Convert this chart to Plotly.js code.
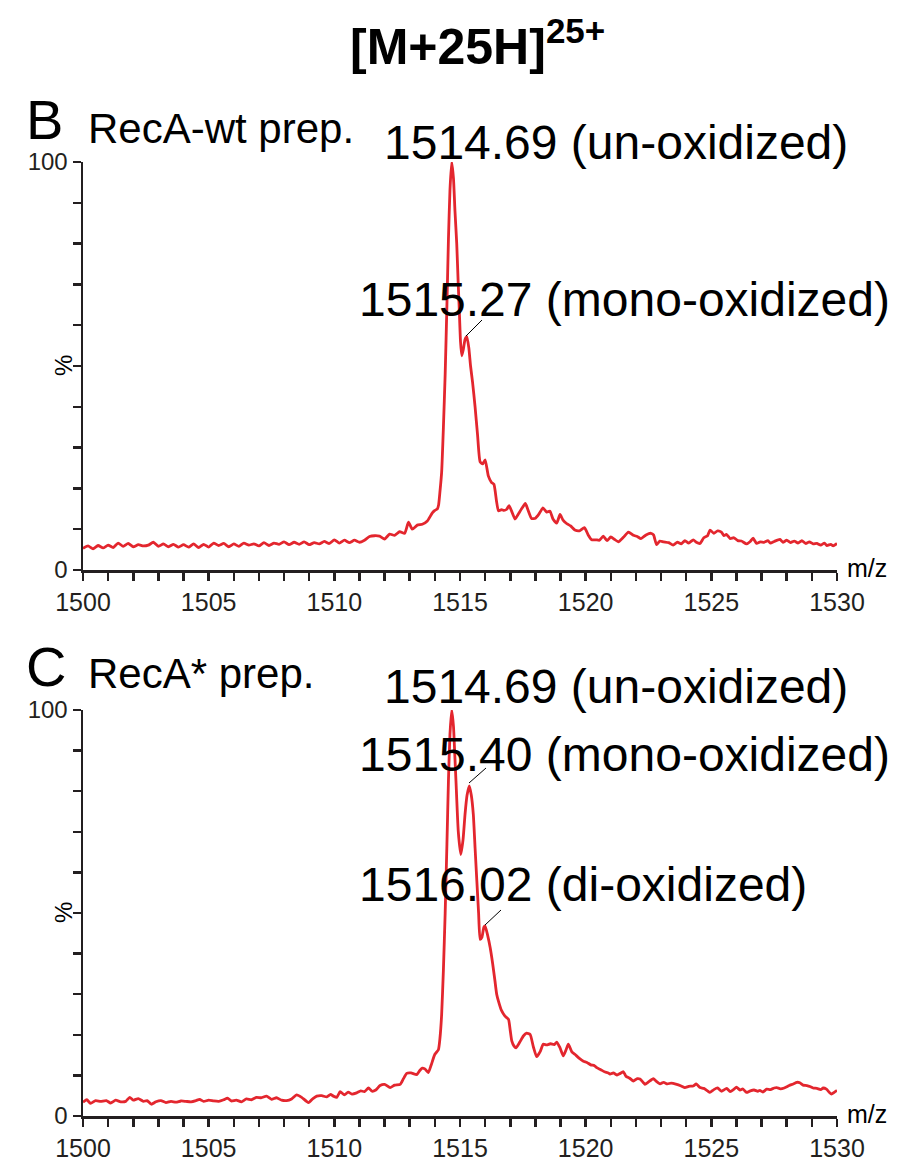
<!DOCTYPE html>
<html>
<head>
<meta charset="utf-8">
<script src="https://cdn.plot.ly/plotly-3.0.1.min.js"></script>
<style>html,body{margin:0;padding:0;background:#fff;}#chart{width:921px;height:1168px;}</style>
</head>
<body>
<div id="chart"></div>
<script>
// ---- data ----
const mzB = [1500.0,1500.2,1500.4,1500.6,1500.8,1501.0,1501.2,1501.4,1501.6,1501.8,1502.0,1502.2,1502.4,1502.6,1502.8,1503.0,1503.2,1503.4,1503.6,1503.8,1504.0,1504.2,1504.4,1504.6,1504.8,1505.0,1505.2,1505.4,1505.6,1505.8,1506.0,1506.2,1506.4,1506.6,1506.8,1507.0,1507.2,1507.4,1507.6,1507.8,1508.0,1508.2,1508.4,1508.6,1508.8,1509.0,1509.2,1509.4,1509.6,1509.8,1510.0,1510.2,1510.4,1510.6,1510.8,1511.0,1511.2,1511.4,1511.6,1511.8,1512.0,1512.2,1512.4,1512.6,1512.8,1512.95,1513.1,1513.3,1513.5,1513.7,1513.9,1514.0,1514.1,1514.15,1514.2,1514.27,1514.34,1514.41,1514.48,1514.54,1514.6,1514.67,1514.74,1514.8,1514.87,1514.93,1514.97,1515.02,1515.07,1515.13,1515.2,1515.27,1515.35,1515.42,1515.5,1515.6,1515.7,1515.8,1515.9,1516.0,1516.13,1516.25,1516.35,1516.45,1516.53,1516.65,1516.75,1516.86,1516.95,1517.05,1517.19,1517.3,1517.45,1517.6,1517.7,1517.85,1518.0,1518.15,1518.3,1518.45,1518.58,1518.7,1518.85,1518.98,1519.1,1519.24,1519.4,1519.57,1519.75,1519.95,1520.1,1520.24,1520.4,1520.55,1520.7,1520.85,1521.0,1521.15,1521.3,1521.5,1521.7,1521.9,1522.05,1522.2,1522.4,1522.6,1522.7,1522.82,1522.95,1523.1,1523.3,1523.48,1523.65,1523.8,1523.95,1524.1,1524.28,1524.4,1524.55,1524.7,1524.85,1524.95,1525.1,1525.25,1525.4,1525.5,1525.6,1525.75,1525.9,1526.05,1526.2,1526.4,1526.55,1526.66,1526.8,1526.95,1527.1,1527.25,1527.35,1527.5,1527.73,1527.85,1528.0,1528.15,1528.3,1528.45,1528.6,1528.75,1528.9,1529.05,1529.2,1529.35,1529.5,1529.6,1529.75,1529.85,1530.0];
const intB = [5.3,5.9,5.2,6.0,5.4,6.1,5.5,6.6,5.8,6.5,5.7,6.2,5.9,6.1,6.8,5.8,6.4,5.7,6.3,5.6,6.2,5.6,6.4,5.5,6.3,5.6,6.6,6.0,6.5,5.7,6.4,5.8,6.6,6.1,6.4,5.9,6.7,6.0,6.6,6.3,6.9,6.2,6.8,6.3,6.9,6.2,6.7,6.4,7.0,6.5,7.4,6.6,7.3,6.7,7.3,6.8,7.3,8.2,8.4,8.3,7.6,8.8,8.5,9.4,9.0,11.7,10.0,11.0,11.2,12.0,14.0,14.6,15.0,16,19,24,35,48,65,81,93,100,96,88,80,70,64,56,52.5,54,56.5,57.2,54.5,50,46,40,33,26.5,26.0,27.0,23,21.5,21,17,14.5,14.8,14.6,14.9,15.8,14.5,12.5,13.5,15.0,16.3,14.8,12.6,12.7,13.8,15.2,14.2,14.4,12.5,11.5,13.6,12.2,11.4,10.8,9.8,9.6,10.4,8.6,7.4,7.4,7.3,8.3,7.2,8.1,7.5,6.9,8.0,9.3,8.5,8.2,7.7,8.6,9.0,8.6,6.2,7.1,6.9,6.7,6.1,6.8,6.4,7.2,6.6,7.4,6.8,6.5,7.9,8.4,9.8,9.0,9.6,9.3,8.4,8.7,7.7,7.9,7.2,7.1,6.4,7.0,7.8,6.5,6.9,6.8,7.2,6.6,7.0,7.5,6.8,7.3,6.7,7.1,6.6,7.2,6.5,6.9,6.4,6.5,6.1,6.6,6.0,6.3,5.9,6.5];

const mzC = [1500.0,1500.15,1500.3,1500.5,1500.7,1500.93,1501.1,1501.3,1501.5,1501.7,1501.86,1502.0,1502.2,1502.4,1502.55,1502.72,1502.9,1503.1,1503.3,1503.5,1503.7,1503.9,1504.1,1504.3,1504.5,1504.64,1504.8,1505.0,1505.2,1505.4,1505.6,1505.75,1505.9,1506.1,1506.3,1506.5,1506.7,1506.9,1507.1,1507.3,1507.5,1507.7,1507.9,1508.1,1508.3,1508.5,1508.7,1508.97,1509.15,1509.3,1509.5,1509.7,1509.85,1509.96,1510.1,1510.23,1510.4,1510.55,1510.7,1510.89,1511.05,1511.2,1511.36,1511.5,1511.65,1511.82,1512.0,1512.22,1512.4,1512.62,1512.75,1512.88,1513.05,1513.28,1513.4,1513.5,1513.6,1513.74,1513.85,1514.0,1514.14,1514.2,1514.27,1514.34,1514.41,1514.48,1514.54,1514.6,1514.67,1514.74,1514.8,1514.84,1514.93,1515.03,1515.12,1515.2,1515.28,1515.37,1515.45,1515.53,1515.6,1515.67,1515.74,1515.8,1515.87,1515.95,1516.0,1516.1,1516.2,1516.3,1516.39,1516.46,1516.53,1516.65,1516.79,1516.93,1517.0,1517.06,1517.15,1517.23,1517.38,1517.52,1517.65,1517.79,1517.92,1518.05,1518.2,1518.31,1518.45,1518.6,1518.75,1518.85,1518.98,1519.11,1519.22,1519.31,1519.45,1519.57,1519.75,1519.91,1520.05,1520.2,1520.35,1520.44,1520.6,1520.75,1520.9,1520.97,1521.1,1521.25,1521.35,1521.5,1521.6,1521.75,1521.9,1522.05,1522.16,1522.3,1522.36,1522.5,1522.69,1522.8,1522.96,1523.1,1523.25,1523.4,1523.62,1523.8,1523.95,1524.1,1524.28,1524.4,1524.55,1524.7,1524.85,1524.94,1525.1,1525.25,1525.4,1525.61,1525.75,1525.9,1526.0,1526.14,1526.25,1526.4,1526.55,1526.7,1526.85,1526.93,1527.05,1527.2,1527.35,1527.5,1527.6,1527.75,1527.9,1528.1,1528.26,1528.4,1528.52,1528.65,1528.8,1528.95,1529.05,1529.2,1529.35,1529.45,1529.58,1529.7,1529.78,1529.9,1530.0];
const intC = [3.4,4.0,3.1,3.8,3.6,3.8,3.2,3.9,3.5,3.6,4.6,3.9,4.3,3.6,3.8,2.9,3.5,3.8,3.3,3.6,3.4,3.7,3.6,3.5,3.8,4.1,3.6,3.9,3.7,3.6,4.0,4.4,3.7,3.9,3.5,4.2,4.0,4.6,4.5,4.9,4.1,4.5,3.9,3.8,4.2,5.2,4.6,3.3,4.3,4.9,5.0,4.7,5.3,4.9,4.6,6.0,5.2,5.9,5.4,5.7,6.2,6.0,6.9,6.1,6.4,7.5,7.8,7.0,7.6,7.8,9.2,10.5,10.6,10.2,11.2,11.8,11.6,10.7,12.5,15.2,16.3,19,25,36,50,67,82.5,94,100,96,88,82.5,70.2,64.4,68,74.3,79,81.3,79,74.3,66,57.9,50,43.5,44,46.5,46.8,44.5,41.5,37.5,33.3,30,28.3,26,24.6,23.8,21.0,18.5,17.2,16.8,18.2,19.7,20.4,20.1,17.0,14.6,16.0,17.7,17.5,17.8,17.6,18.2,16.8,14.8,16.3,17.7,15.8,15.2,14.2,13.5,13.2,12.6,12.4,11.9,11.4,10.9,10.6,10.3,10.6,10.1,10.4,10.9,9.8,9.3,8.6,9.2,9.1,8.2,7.8,8.4,9.2,8.6,7.9,8.3,7.9,8.1,7.8,7.4,7.0,7.3,7.4,7.9,7.0,6.8,6.2,5.8,6.5,6.9,6.1,6.8,6.0,6.6,7.1,6.4,6.7,5.8,6.2,6.4,6.1,6.3,5.9,6.6,6.5,6.9,7.0,6.7,6.9,7.5,7.9,8.3,8.2,7.6,7.5,7.2,6.9,6.8,6.5,6.9,6.6,5.8,5.4,5.9,6.3];

const panelLetters = ["B", "C"];
const panelNames = ["RecA-wt prep.", "RecA* prep."];
const peakLabelsB = ["1514.69 (un-oxidized)", "1515.27 (mono-oxidized)"];
const peakLabelsC = ["1514.69 (un-oxidized)", "1515.40 (mono-oxidized)", "1516.02 (di-oxidized)"];
const yTickVals = [0, 100];
const xRange = [1500, 1530];
const yRange = [0, 100];

// ---- layout helpers (pixel -> paper) ----
const W = 921, H = 1168;
const px = v => v / W;
const py = v => 1 - v / H;
const FONT = "Liberation Sans, Arial, Helvetica, sans-serif";
const INK = "#231f20";
const RED = "#e3262e";

function xAxis(anchor) {
  return {
    anchor: anchor, domain: [px(83), px(837)], range: xRange,
    showline: true, linecolor: INK, linewidth: 2.5,
    ticks: "outside", ticklen: 8, tickwidth: 2.5, tickcolor: INK,
    dtick: 5, tick0: 1500,
    minor: {dtick: 1, ticks: "outside", ticklen: 8, tickwidth: 2.5, tickcolor: INK, showgrid: false},
    showgrid: false, zeroline: false,
    tickfont: {family: FONT, size: 25, color: INK}, fixedrange: true
  };
}
function yAxis(anchor, top, bottom) {
  return {
    anchor: anchor, domain: [py(bottom), py(top)], range: yRange,
    showline: true, linecolor: INK, linewidth: 2.5,
    ticks: "outside", ticklen: 8, tickwidth: 2.5, tickcolor: INK,
    tickvals: yTickVals,
    minor: {dtick: 10, tick0: 0, ticks: "outside", ticklen: 8, tickwidth: 2.5, tickcolor: INK, showgrid: false},
    showgrid: false, zeroline: false,
    tickfont: {family: FONT, size: 24, color: INK}, fixedrange: true
  };
}

const traces = [
  {x: mzB, y: intB, xaxis: "x", yaxis: "y", type: "scatter", mode: "lines",
   line: {color: RED, width: 2.8, shape: "spline", smoothing: 0.5}, hoverinfo: "skip"},
  {x: mzC, y: intC, xaxis: "x2", yaxis: "y2", type: "scatter", mode: "lines",
   line: {color: RED, width: 2.8, shape: "spline", smoothing: 0.5}, hoverinfo: "skip"}
];

function ann(text, x, y, size, xanchor, extra) {
  return Object.assign({text: text, xref: "paper", yref: "paper", x: px(x), y: py(y),
    xanchor: xanchor || "left", yanchor: "middle", showarrow: false,
    font: {family: FONT, size: size, color: "#000"}}, extra || {});
}

const annotations = [
  ann("<b>[M+25H]<sup>25+</sup></b>", 477, 43, 50, "center"),
  ann(panelLetters[0], 24, 120, 56, "left"),
  ann(panelNames[0], 86, 129, 42, "left"),
  ann(peakLabelsB[0], 382, 143, 48, "left"),
  ann(peakLabelsB[1], 357, 299, 48, "left"),
  ann(panelLetters[1], 24, 666, 56, "left"),
  ann(panelNames[1], 86, 673, 42, "left"),
  ann(peakLabelsC[0], 382, 686, 48, "left"),
  ann(peakLabelsC[1], 357, 754, 48, "left"),
  ann(peakLabelsC[2], 357, 884, 48, "left"),
  ann("%", 63, 366, 24, "center", {textangle: -90}),
  ann("%", 63, 913, 24, "center", {textangle: -90}),
  ann("m/z", 845, 568, 25, "left"),
  ann("m/z", 845, 1114, 25, "left")
];

function seg(x0, y0, x1, y1) {
  return {type: "line", xref: "paper", yref: "paper", x0: px(x0), y0: py(y0), x1: px(x1), y1: py(y1),
          line: {color: "#000", width: 1}};
}
const shapes = [
  seg(466, 336, 482, 320),
  seg(469, 783, 486, 768),
  seg(485, 925, 501, 910)
];

const layout = {
  width: W, height: H,
  margin: {l: 0, r: 0, t: 0, b: 0},
  paper_bgcolor: "#fff", plot_bgcolor: "rgba(0,0,0,0)",
  showlegend: false,
  xaxis: xAxis("y"),
  yaxis: yAxis("x", 162, 570),
  xaxis2: xAxis("y2"),
  yaxis2: yAxis("x2", 710, 1116),
  annotations: annotations,
  shapes: shapes
};

Plotly.newPlot("chart", traces, layout, {displayModeBar: false, staticPlot: true});
</script>
</body>
</html>
